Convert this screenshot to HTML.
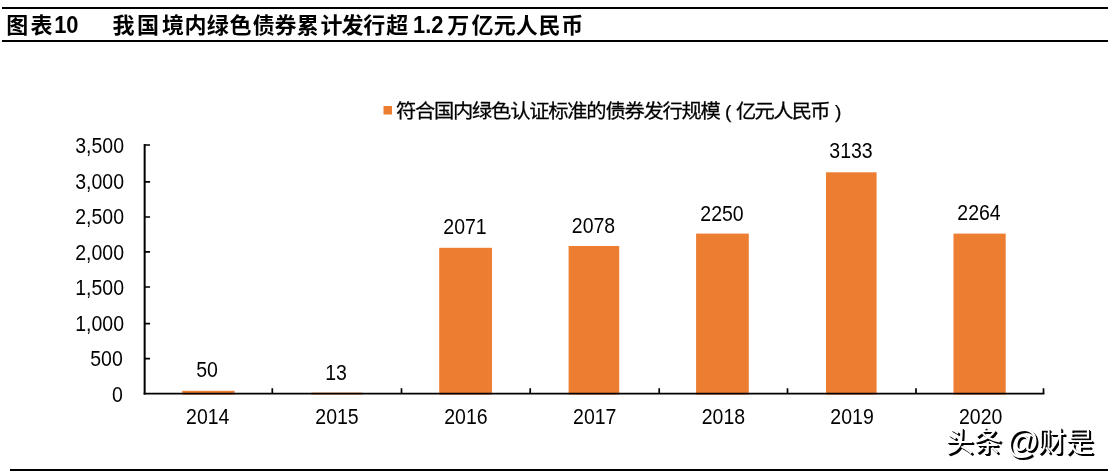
<!DOCTYPE html>
<html lang="zh-CN">
<head>
<meta charset="utf-8">
<title>图表10 我国境内绿色债券累计发行超1.2万亿元人民币</title>
<style>
html,body{margin:0;padding:0;background:#fff;}
body{width:1109px;height:472px;overflow:hidden;position:relative;}
svg{position:absolute;left:0;top:0;display:block;}
.t{font-family:"Liberation Sans","Noto Sans CJK SC",sans-serif;fill:#000;}
.title{font-weight:700;font-size:22px;}
.sp{letter-spacing:0.8px;}
.ax{font-size:21.3px;}
.lg{font-size:19.15px;stroke:#000;stroke-width:0.25px;}
.wm{font-family:"Liberation Sans","Noto Sans CJK SC",sans-serif;font-size:28px;}
</style>
</head>
<body>
<svg width="1109" height="472" viewBox="0 0 1109 472">
  <rect x="0" y="0" width="1109" height="472" fill="#fff"/>
  <!-- title rules -->
  <rect x="2" y="7" width="1106" height="2" fill="#000"/>
  <rect x="2" y="40" width="1106" height="2" fill="#000"/>
  <rect x="10" y="469" width="1098" height="2" fill="#000"/>
  <!-- title -->
  <text class="t title" x="6.3 30.5" y="33.2">图表</text>
  <text class="t title" transform="translate(54.2 33.2) scale(0.9 1)" style="font-size:24.3px">10</text>
  <text class="t title" x="112.6 137.0 162.0 184.4 206.8 229.5 252.7 274.5 296.7 320.5 341.4 363.3 386.2" y="33.2">我国境内绿色债券累计发行超</text>
  <text class="t title" transform="translate(413 33.2) scale(0.9 1)" style="font-size:24.3px">1.2</text>
  <text class="t title" x="447.3 471.6 493.7 515.7 538.5 561.3" y="33.2">万亿元人民币</text>

  <!-- legend -->
  <rect x="383.5" y="106" width="8.5" height="8.5" fill="#ED7D31"/>
  <text class="t lg" transform="translate(395.9 118) scale(1.06 1)" style="letter-spacing:-1.17px">符合国内绿色认证标准的债券发行规模</text>
  <text class="t lg" x="725" y="118">(</text>
  <text class="t lg" transform="translate(736 118) scale(1.06 1)" style="letter-spacing:-1.6px">亿元人民币</text>
  <text class="t lg" x="835" y="118">)</text>

  <!-- bars -->
  <g fill="#ED7D31">
    <rect x="182.2" y="390.8" width="52.4" height="3.7"/>
    <rect x="311.4" y="392.6" width="51" height="1.9"/>
    <rect x="439.2" y="247.8" width="52.8" height="146.7"/>
    <rect x="568.6" y="246" width="50.6" height="148.5"/>
    <rect x="696.1" y="233.6" width="52.7" height="160.9"/>
    <rect x="826" y="172.3" width="50.6" height="222.2"/>
    <rect x="953.5" y="233.6" width="52.2" height="160.9"/>
  </g>

  <!-- axes -->
  <g fill="#000">
    <rect x="143.65" y="144.1" width="2" height="250.4"/>
    <rect x="143.65" y="392.75" width="900.8" height="1.75"/>
  </g>
  <g stroke="#000" stroke-width="1.7" fill="none">
    <path d="M144.65 145h5.4M144.65 181.9h5.4M144.65 217h5.4M144.65 251.9h5.4M144.65 287h5.4M144.65 323.7h5.4M144.65 358.6h5.4"/>
    <path d="M272.3 393.6v-5.3M401.5 393.6v-5.3M530.2 393.6v-5.3M659.2 393.6v-5.3M787.5 393.6v-5.3M916 393.6v-5.3M1043.5 393.6v-5.3"/>
  </g>

  <!-- y labels -->
  <g class="t ax" text-anchor="end" transform="scale(0.915 1)">
    <text x="135.52" y="153">3,500</text>
    <text x="135.52" y="189">3,000</text>
    <text x="135.52" y="224">2,500</text>
    <text x="135.52" y="260">2,000</text>
    <text x="135.52" y="295">1,500</text>
    <text x="135.52" y="331">1,000</text>
    <text x="134.21" y="366">500</text>
    <text x="134.21" y="402">0</text>
  </g>
  <!-- x labels -->
  <g class="t ax" text-anchor="middle" transform="scale(0.915 1)">
    <text x="227.03" y="424">2014</text>
    <text x="368.31" y="424">2015</text>
    <text x="509.23" y="424">2016</text>
    <text x="650.06" y="424">2017</text>
    <text x="790.61" y="424">2018</text>
    <text x="931.21" y="424">2019</text>
    <text x="1071.78" y="424">2020</text>
  </g>
  <!-- data labels -->
  <g class="t ax" text-anchor="middle" transform="scale(0.915 1)">
    <text x="226.23" y="377">50</text>
    <text x="367.21" y="380">13</text>
    <text x="508.20" y="234">2071</text>
    <text x="648.64" y="233">2078</text>
    <text x="789.07" y="221">2250</text>
    <text x="930.05" y="158">3133</text>
    <text x="1069.94" y="220">2264</text>
  </g>

  <!-- watermark -->
  <defs>
    <filter id="wmshadow" x="-5%" y="-20%" width="110%" height="150%" color-interpolation-filters="sRGB">
      <feOffset in="SourceAlpha" dx="1.25" dy="1.25" result="s1"/>
      <feOffset in="SourceAlpha" dx="1.75" dy="1.75" result="s2"/>
      <feMerge><feMergeNode in="s1"/><feMergeNode in="s2"/><feMergeNode in="SourceGraphic"/></feMerge>
    </filter>
  </defs>
  <text class="wm" fill="#fff" filter="url(#wmshadow)" y="452.3"><tspan x="945.8">头条 </tspan><tspan x="1006.2" dy="0.5" font-size="32.5">@</tspan><tspan x="1037.7" dy="-0.5">财是</tspan></text>
</svg>
</body>
</html>
